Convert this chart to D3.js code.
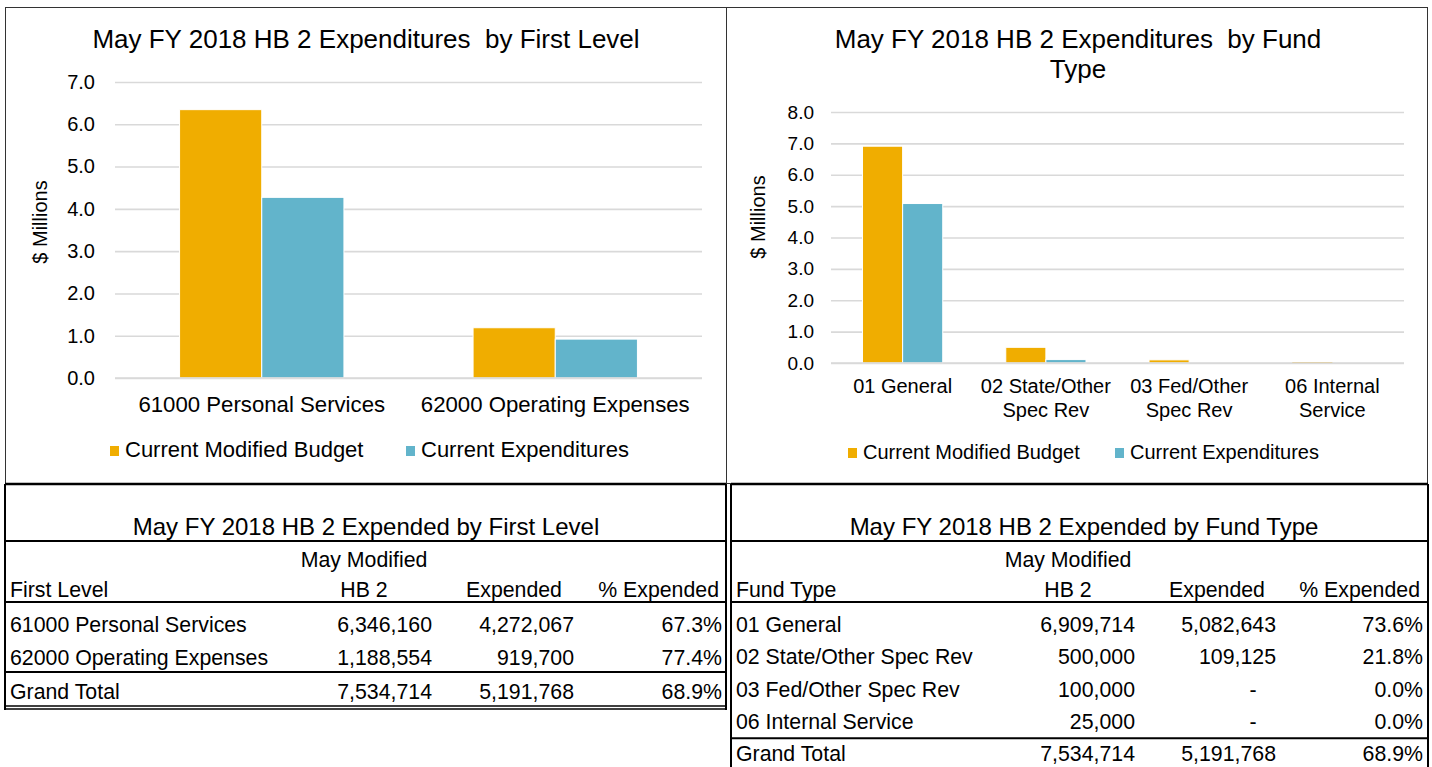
<!DOCTYPE html>
<html>
<head>
<meta charset="utf-8">
<script src="https://cdn.jsdelivr.net/npm/d3@7"></script>
<style>
  body { margin: 0; background: #fff; }
  svg { display: block; font-family: "Liberation Sans", Arial, sans-serif; }
  text { white-space: pre; }
</style>
</head>
<body>
<svg id="chart" width="1432" height="767"></svg>
<script>
const seriesNames = ['Current Modified Budget', 'Current Expenditures'];
const seriesColors = ['#F0AD00', '#62B4CB'];

const levelCats   = ['61000 Personal Services', '62000 Operating Expenses'];
const levelBudget = [6346160, 1188554];
const levelSpent  = [4272067, 919700];
const levelPct    = ['67.3%', '77.4%'];
const levelTotal  = ['Grand Total', 7534714, 5191768, '68.9%'];
const levelTicks  = [0, 1, 2, 3, 4, 5, 6, 7];

const fundCats   = ['01 General', '02 State/Other Spec Rev', '03 Fed/Other Spec Rev', '06 Internal Service'];
const fundLines  = [['01 General'], ['02 State/Other', 'Spec Rev'], ['03 Fed/Other', 'Spec Rev'], ['06 Internal', 'Service']];
const fundBudget = [6909714, 500000, 100000, 25000];
const fundSpent  = [5082643, 109125, 0, 0];
const fundPct    = ['73.6%', '21.8%', '0.0%', '0.0%'];
const fundTotal  = ['Grand Total', 7534714, 5191768, '68.9%'];
const fundTicks  = [0, 1, 2, 3, 4, 5, 6, 7, 8];

const svg = d3.select('#chart');
const fmtNum = d3.format(',');

// frames round the two charts
svg.append('rect').attr('x', 5.5).attr('y', 7.5).attr('width', 721).attr('height', 476)
  .attr('fill', 'none').attr('stroke', '#333').attr('stroke-width', 1);
svg.append('rect').attr('x', 726.5).attr('y', 7.5).attr('width', 701).attr('height', 476)
  .attr('fill', 'none').attr('stroke', '#333').attr('stroke-width', 1);

function barChart(o) {
  const g = svg.append('g');

  // title
  o.title.forEach((t, i) => {
    g.append('text').attr('x', o.titleX).attr('y', o.titleY + i * 30)
      .attr('text-anchor', 'middle').style('font-size', '26px').text(t);
  });

  const x = d3.scaleBand().domain(o.cats).range([o.x0, o.x1])
    .paddingInner(0.44).paddingOuter(0.22);
  const xs = d3.scaleBand().domain(seriesNames).range([0, x.bandwidth()]);
  const y = d3.scaleLinear().domain([0, d3.max(o.ticks)]).range([o.yBottom, o.yTop]);

  // grid + tick labels
  const ax = g.append('g').attr('transform', `translate(${o.x0},0)`)
    .call(d3.axisLeft(y).tickValues(o.ticks).tickFormat(d3.format('.1f'))
      .tickSize(-(o.x1 - o.x0)).tickPadding(o.tickPad));
  ax.select('.domain').remove();
  ax.selectAll('line').attr('stroke', '#D9D9D9').attr('stroke-width', 1.6);
  ax.selectAll('text').attr('fill', '#000').style('font-size', o.tickFont)
    .style('font-family', '"Liberation Sans", Arial, sans-serif');

  // bars
  const rows = o.cats.map((c, i) => ({ cat: c, vals: [o.budget[i], o.spent[i]] }));
  g.selectAll('g.cat').data(rows).join('g').attr('class', 'cat')
    .attr('transform', d => `translate(${x(d.cat)},0)`)
    .selectAll('rect').data(d => d.vals.map((v, k) => ({ k, v: v / 1e6 })))
    .join('rect')
      .attr('x', d => xs(seriesNames[d.k]))
      .attr('width', xs.bandwidth())
      .attr('y', d => y(d.v))
      .attr('height', d => y(0) - y(d.v))
      .attr('fill', d => seriesColors[d.k])
      .attr('stroke', '#fff').attr('stroke-width', d => d.v > 0.05 ? 1 : 0);

  // category axis line on top of the bars
  g.append('line').attr('x1', o.x0).attr('x2', o.x1).attr('y1', y(0)).attr('y2', y(0))
    .attr('stroke', '#D9D9D9').attr('stroke-width', 1.6);

  // category labels
  o.cats.forEach((c, i) => {
    o.lines[i].forEach((t, j) => {
      g.append('text').attr('x', x(c) + x.bandwidth() / 2).attr('y', o.catY + j * 24)
        .attr('text-anchor', 'middle').style('font-size', o.catFont).text(t);
    });
  });

  // y title
  g.append('text').attr('transform', `translate(${o.yTitleX},${o.yTitleY}) rotate(-90)`)
    .attr('text-anchor', 'middle').style('font-size', o.yTitleFont).text('$ Millions');

  // legend
  seriesNames.forEach((s, k) => {
    g.append('rect').attr('x', o.legX[k]).attr('y', o.legY - 11).attr('width', 9).attr('height', 10)
      .attr('fill', seriesColors[k]);
    g.append('text').attr('x', o.legX[k] + 15).attr('y', o.legY)
      .style('font-size', o.legFont).text(s);
  });
}

barChart({
  title: ['May FY 2018 HB 2 Expenditures  by First Level'], titleX: 366, titleY: 48,
  cats: levelCats, lines: levelCats.map(c => [c]), budget: levelBudget, spent: levelSpent,
  ticks: levelTicks, x0: 115, x1: 702, yBottom: 378, yTop: 82, tickPad: 20, tickFont: '20px',
  catY: 412, catFont: '22.2px', yTitleX: 47, yTitleY: 222, yTitleFont: '20px',
  legX: [110, 406], legY: 457, legFont: '22px'
});

barChart({
  title: ['May FY 2018 HB 2 Expenditures  by Fund', 'Type'], titleX: 1078, titleY: 48,
  cats: fundCats, lines: fundLines, budget: fundBudget, spent: fundSpent,
  ticks: fundTicks, x0: 831, x1: 1404, yBottom: 363, yTop: 112, tickPad: 17, tickFont: '19px',
  catY: 393, catFont: '20px', yTitleX: 765, yTitleY: 217, yTitleFont: '20px',
  legX: [848, 1115], legY: 459, legFont: '20px'
});

// ---- tables ----
function table(o) {
  const g = svg.append('g');
  const line = (x1, x2, yy, w) => g.append('line').attr('x1', x1).attr('x2', x2)
    .attr('y1', yy).attr('y2', yy).attr('stroke', '#000').attr('stroke-width', w || 2);
  const vline = (xx, y1, y2) => g.append('line').attr('x1', xx).attr('x2', xx)
    .attr('y1', y1).attr('y2', y2).attr('stroke', '#000').attr('stroke-width', 2);
  const txt = (t, xx, yy, anchor, size) => g.append('text').attr('x', xx).attr('y', yy)
    .attr('text-anchor', anchor).style('font-size', size || '21.3px').text(t);

  line(o.left, o.right, 484, 2.5);
  vline(o.left, 484, o.bottom);
  vline(o.right, 484, o.bottom);

  txt(o.title, o.titleX, 535, 'middle', '24px');
  line(o.left, o.right, 541);
  txt('May Modified', o.hbX, 567, 'middle');
  txt(o.head, o.left + 5, 597, 'start');
  txt('HB 2', o.hbX, 597, 'middle');
  txt('Expended', o.expX, 597, 'middle');
  txt('% Expended', o.pctR - 3, 597, 'end');
  line(o.left, o.right, 602);

  const rows = o.cats.map((c, i) => [c, o.budget[i], o.spent[i], o.pct[i]]);
  rows.forEach((r, i) => {
    const yy = 632 + i * o.rowH;
    txt(r[0], o.left + 5, yy, 'start');
    txt(fmtNum(r[1]), o.col1R, yy, 'end');
    if (r[2] > 0) txt(fmtNum(r[2]), o.col2R, yy, 'end');
    else txt('-', o.dashX, yy, 'middle');
    txt(r[3], o.pctR, yy, 'end');
  });
  const ty = 632 + rows.length * o.rowH + o.totalShift;
  line(o.left, o.right, ty - o.totalLine);
  txt(o.total[0], o.left + 5, ty, 'start');
  txt(fmtNum(o.total[1]), o.col1R, ty, 'end');
  txt(fmtNum(o.total[2]), o.col2R, ty, 'end');
  txt(o.total[3], o.pctR, ty, 'end');
  if (o.double) {
    line(o.left, o.right, ty + 7, 1.5);
    line(o.left, o.right, ty + 10, 1.5);
  }
}

table({
  left: 5, right: 726, bottom: 710, title: 'May FY 2018 HB 2 Expended by First Level', titleX: 366,
  head: 'First Level', hbX: 364, expX: 514, col1R: 432, col2R: 574, dashX: 548, pctR: 722,
  cats: levelCats, budget: levelBudget, spent: levelSpent, pct: levelPct, total: levelTotal,
  rowH: 33, totalShift: 1, totalLine: 27, double: true
});

table({
  left: 731, right: 1428, bottom: 767, title: 'May FY 2018 HB 2 Expended by Fund Type', titleX: 1084,
  head: 'Fund Type', hbX: 1068, expX: 1217, col1R: 1135, col2R: 1276, dashX: 1253, pctR: 1423,
  cats: fundCats, budget: fundBudget, spent: fundSpent, pct: fundPct, total: fundTotal,
  rowH: 32.3, totalShift: 0, totalLine: 23, double: false
});
</script>
</body>
</html>
